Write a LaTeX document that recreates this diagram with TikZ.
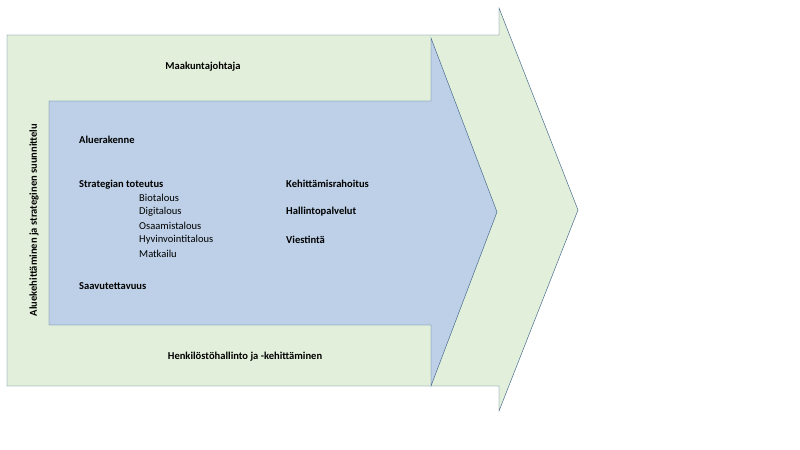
\documentclass[tikz,border=0pt]{standalone}
\usepackage{fontspec}
\setmainfont{Carlito}
\definecolor{outerfill}{HTML}{E2EFDA}
\definecolor{innerfill}{HTML}{BDD0E7}
\definecolor{edge}{HTML}{42678A}
\tikzset{
  lbl/.style={font=\fontsize{9}{10}\selectfont\bfseries, inner sep=0pt},
  sub/.style={font=\fontsize{9}{10}\selectfont, inner sep=0pt, anchor=west},
}
\begin{document}
\begin{tikzpicture}[x=0.03cm,y=-0.03cm]
  \useasboundingbox (0,0) rectangle (800,450);

  % outer arrow
  \draw[edge, fill=outerfill] (7,35) -- (499,35) -- (499,8) -- (578,210)
    -- (499,411) -- (499,386) -- (7,386) -- cycle;

  % inner arrow
  \draw[edge, fill=innerfill] (49,101) -- (431,101) -- (431,38) -- (497,212)
    -- (431,386) -- (431,325) -- (49,325) -- cycle;

  \node[lbl] (top) at (203,67) {Maakuntajohtaja};
  \node[lbl] (bottom) at (245,357) {Henkilöstöhallinto ja -kehittäminen};
  \node[lbl, rotate=90] (side) at (34,220) {Aluekehittäminen ja strateginen suunnittelu};

  \node[lbl, anchor=west] (alue) at (79,140) {Aluerakenne};
  \node[lbl, anchor=west] (strat) at (79,185) {Strategian toteutus};
  \foreach \t [count=\i] in {Biotalous,Digitalous,Osaamistalous,Hyvinvointitalous,Matkailu}
    \node[sub] (s\i) at (139,184+14*\i) {\t};
  \node[lbl, anchor=west] (saav) at (79,286) {Saavutettavuus};

  \node[lbl, anchor=west] (raha) at (286,184) {Kehittämisrahoitus};
  \node[lbl, anchor=west] (hall) at (286,212) {Hallintopalvelut};
  \node[lbl, anchor=west] (vies) at (286,240) {Viestintä};
\end{tikzpicture}
\end{document}
